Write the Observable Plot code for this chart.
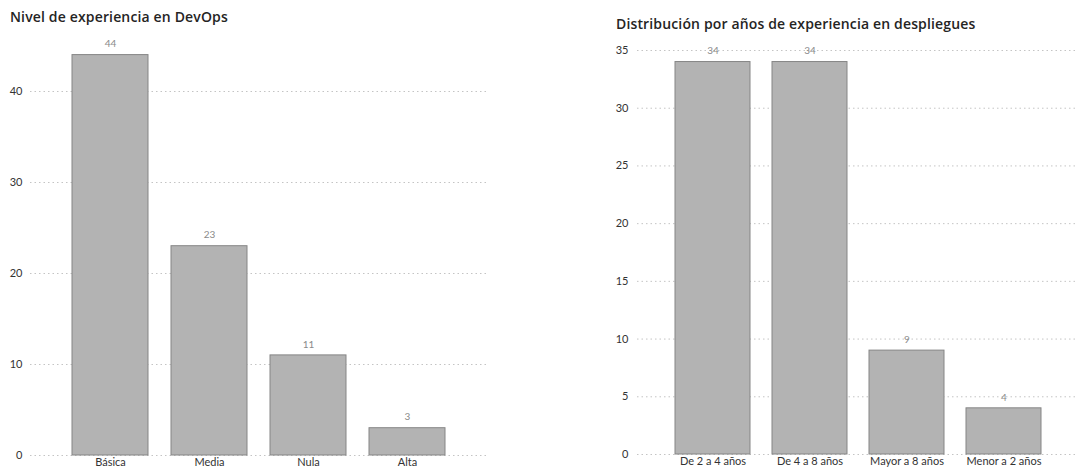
<!DOCTYPE html>
<html><head><meta charset="utf-8">
<script src="https://cdn.jsdelivr.net/npm/d3@7"></script>
<script src="https://cdn.jsdelivr.net/npm/@observablehq/plot@0.6"></script>
<style>
body{margin:0;background:#fff;font-family:Lato,sans-serif;}
#wrap{position:relative;width:1078px;height:471px;overflow:hidden}
.panel{position:absolute;top:0;height:471px}
.title{position:absolute;font-family:"Open Sans",sans-serif;font-weight:600;font-size:14px;letter-spacing:0.15px;color:#252423;white-space:nowrap;line-height:16px}
.panel svg{position:absolute;top:30px;left:0}
</style></head><body>
<div id="wrap">
  <div class="panel" id="p1" style="left:0;width:500px"><div class="title" style="left:10px;top:9px">Nivel de experiencia en DevOps</div></div>
  <div class="panel" id="p2" style="left:580px;width:498px"><div class="title" style="left:36px;top:16px">Distribución por años de experiencia en despliegues</div></div>
</div>
<script>
const nivelCats = ["Básica", "Media", "Nula", "Alta"];
const nivelVals = [44, 23, 11, 3];
const nivelTicks = [0, 10, 20, 30, 40];

const aniosCats = ["De 2 a 4 años", "De 4 a 8 años", "Mayor a 8 años", "Menor a 2 años"];
const aniosVals = [34, 34, 9, 4];
const aniosTicks = [0, 5, 10, 15, 20, 25, 30, 35];

function chart(cats, vals, ticks, ymax, opts) {
  const data = cats.map((c, i) => ({cat: c, val: vals[i]}));
  return Plot.plot({
    width: opts.width, height: 441,
    marginLeft: opts.ml, marginRight: opts.mr, marginTop: opts.mt, marginBottom: opts.mb,
    x: {domain: cats, paddingInner: 0.23, paddingOuter: opts.po, label: null},
    y: {domain: [0, ymax], label: null},
    style: {fontFamily: "Lato, sans-serif", fontSize: "10px", color: "#333", background: "transparent"},
    marks: [
      Plot.gridY(ticks, {stroke: "#c4c4c4", strokeOpacity: 1, strokeDasharray: "1.5,3"}),
      Plot.barY(data, {x: "cat", y: "val", fill: "#b3b3b3", stroke: "#858585", strokeWidth: 1}),
      Plot.text(data, {x: "cat", y: "val", text: d => String(d.val), dy: -11, fill: "#8a8a8a", fontSize: 10}),
      Plot.axisY(ticks, {tickSize: 0, tickPadding: opts.tp, fontSize: 11, fill: "#333", label: null}),
      Plot.axisX({tickSize: 0, tickPadding: 3, fontSize: 11, fill: "#333", label: null})
    ]
  });
}

document.getElementById("p1").appendChild(
  chart(nivelCats, nivelVals, nivelTicks, 44, {width: 500, ml: 30, mr: 13, mt: 24.6, mb: 16, po: 0.405, tp: 8})
);
document.getElementById("p2").appendChild(
  chart(aniosCats, aniosVals, aniosTicks, 35, {width: 498, ml: 57, mr: 0, mt: 20, mb: 17, po: 0.385, tp: 9})
);
</script>
</body></html>
